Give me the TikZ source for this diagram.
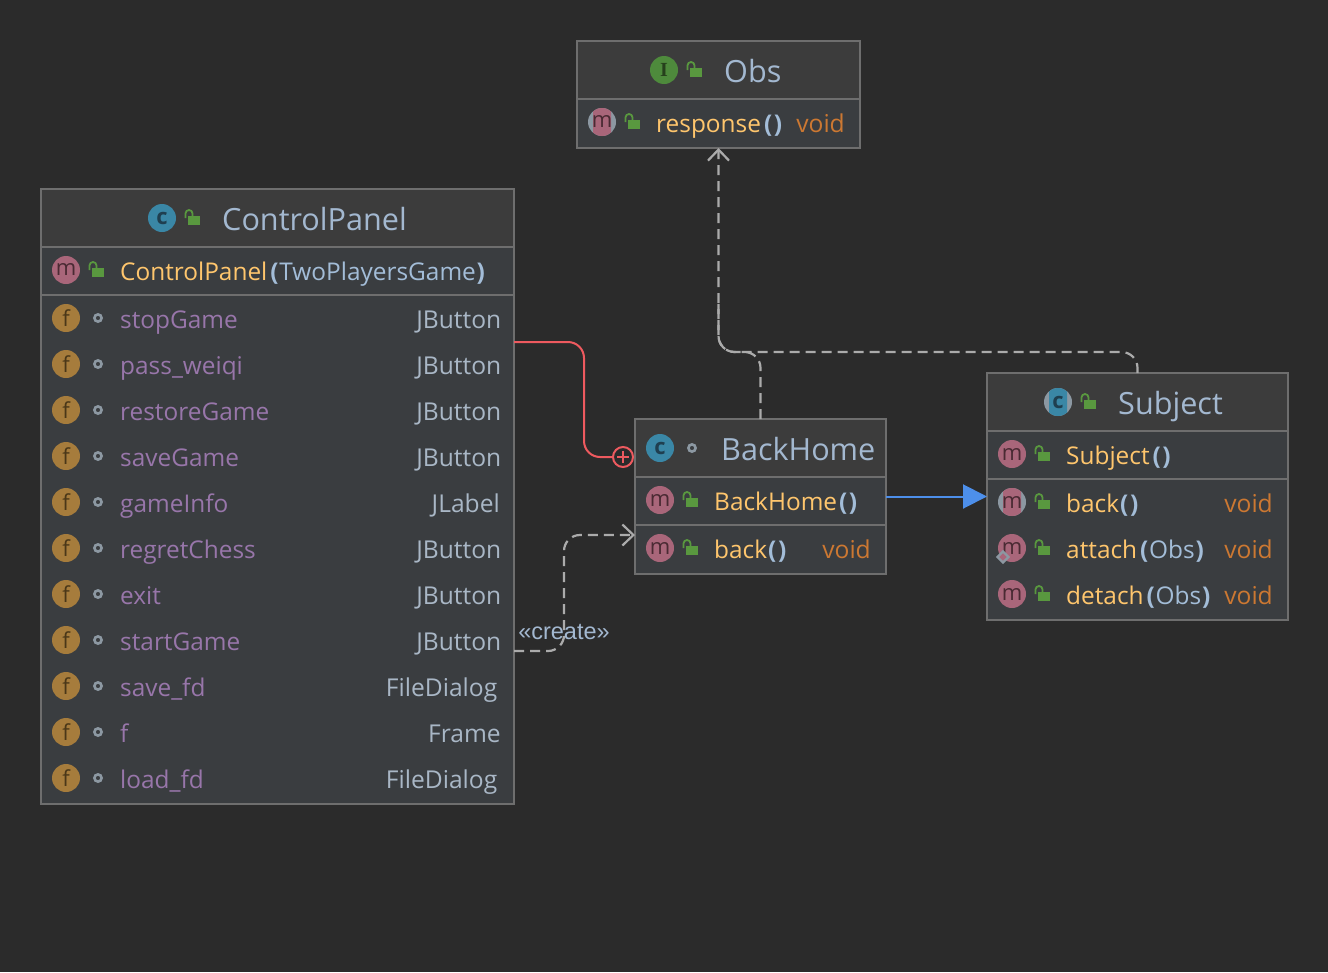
\documentclass[tikz,border=0pt]{standalone}
\usepackage{fontspec}
\setmainfont{Open Sans}
\newfontfamily\labelfont{Liberation Sans}
\newfontfamily\serifletter{Liberation Serif}
\usetikzlibrary{arrows.meta}
\definecolor{canvas}{HTML}{2B2B2B}
\definecolor{headfill}{HTML}{3C3C3C}
\definecolor{bodyfill}{HTML}{3A3D40}
\definecolor{edge}{HTML}{6E6E6E}
\definecolor{titlec}{HTML}{A3B8D0}
\definecolor{methodc}{HTML}{FFC66D}
\definecolor{parenc}{HTML}{A3BDD8}
\definecolor{fieldc}{HTML}{9876AA}
\definecolor{typec}{HTML}{A9B7C6}
\definecolor{voidc}{HTML}{CC7832}
\definecolor{lockc}{HTML}{59983F}
\definecolor{mfill}{HTML}{A9667A}
\definecolor{mtext}{HTML}{4A2A33}
\definecolor{ffill}{HTML}{A67C3C}
\definecolor{ftext}{HTML}{4A3718}
\definecolor{cfill}{HTML}{3A87A6}
\definecolor{ctext}{HTML}{1F3F50}
\definecolor{ifill}{HTML}{4E8A3C}
\definecolor{itext}{HTML}{26401C}
\definecolor{ghost}{HTML}{8C98A2}
\definecolor{dashc}{HTML}{ABABAB}
\definecolor{innerc}{HTML}{EE5A5F}
\definecolor{extendc}{HTML}{4D8FEA}
\newcommand{\pl}{\hspace{3pt}{\bfseries(}\hspace{0.8pt}}
\newcommand{\pr}{\hspace{0.8pt}{\bfseries)}}
\tikzset{
  classbox/.style={draw=edge,line width=1.5pt,fill=bodyfill,anchor=north west,inner sep=0pt,outer sep=0pt},
  sepline/.style={draw=edge,line width=2pt},
  titletext/.style={anchor=base west,inner sep=0pt,text=titlec,font=\fontsize{30.6}{31}\selectfont},
  rowtext/.style={anchor=base west,inner sep=0pt,font=\fontsize{24.4}{26}\selectfont},
  typetext/.style={anchor=base east,inner sep=0pt,font=\fontsize{24.6}{26}\selectfont},
  iconbase/.style={circle,minimum size=28pt,inner sep=0pt,font=\fontsize{22}{22}\selectfont},
  micon/.style={iconbase,fill=mfill,text=mtext},
  ficon/.style={iconbase,fill=ffill,text=ftext},
  cicon/.style={iconbase,fill=cfill,text=ctext,font=\fontsize{22}{22}\selectfont\bfseries},
  iicon/.style={iconbase,fill=ifill,text=itext},
  bareicon/.style={iconbase,text=#1},
  dashlink/.style={draw=dashc,line width=2.2pt,dash pattern=on 10pt off 6pt,rounded corners=16pt},
  openhead/.style={-{Straight Barb[length=11pt,width=21pt,line width=2.2pt]}},
  lockicon/.pic={
    \fill[lockc] (-4,-2) rectangle (8,7);
    \draw[lockc,line width=1.8pt] (-6.5,0) -- (-6.5,-4.5) arc[start angle=180,end angle=360,radius=3.5] -- (0.5,-2);
  },
  doticon/.pic={
    \draw[ghost,line width=2.6pt,fill=bodyfill] (0,0) circle[radius=3.6];
  },
}
% icon with a grey disc behind a coloured band
\newcommand{\abstracticon}[5]{%
  \fill[ghost] (#2,#3) circle[radius=14];
  \begin{scope}
    \clip (#2-9,#3-15) rectangle (#2+9,#3+15);
    \fill[#4] (#2,#3) circle[radius=14];
  \end{scope}
  \node[bareicon=#5] (#1) at (#2,#3) {m};
}
\newcommand{\methodrow}[5]{%
  \node[micon] (#1icon) at (#2+25,#3) {m};
  \pic at (#2+55,#3) {lockicon};
  \node[rowtext] (#1) at (#2+79,#3+10) {\color{methodc}#4\color{parenc}#5};
}
\begin{document}
\begin{tikzpicture}[x=1pt,y=-1pt]
\useasboundingbox[fill=canvas] (0,0) rectangle (1328,972);

% class boxes
\foreach \bname/\bx/\by/\bw/\bh/\sepa/\sepb in {obs/577/41/283/107/99/0,
    panel/41/189/473/615/247/295, backhome/635/419/251/155/477/525, subject/987/373/301/247/431/479}{
  \node[classbox,minimum width=\bw pt,minimum height=\bh pt] (\bname) at (\bx,\by) {};
  \fill[headfill] (\bx+1,\by+1) rectangle (\bx+\bw-1,\sepa);
  \draw[sepline] (\bx+1,\sepa) -- (\bx+\bw-1,\sepa);
  \ifnum\sepb>0 \draw[sepline] (\bx+1,\sepb) -- (\bx+\bw-1,\sepb); \fi
}

% Obs
\node[iicon,font=\serifletter\fontsize{20}{20}\selectfont\bfseries] (obsicon) at (664,70) {I};
\pic at (694,70) {lockicon};
\node[titletext] (obstitle) at (724,82) {Obs};
\abstracticon{responseicon}{602}{122}{mfill}{mtext}
\pic at (632,122) {lockicon};
\node[rowtext] (response) at (656,132) {\color{methodc}response\color{parenc}\pl\pr};
\node[typetext,text=voidc] (responsevoid) at (845,132) {void};

% ControlPanel
\node[cicon] (panelicon) at (162,218) {c};
\pic at (192,218) {lockicon};
\node[titletext] (paneltitle) at (222,230) {ControlPanel};
\methodrow{panelctor}{41}{270}{ControlPanel}{\pl TwoPlayersGame\pr}
\foreach \fname/\ftype/\tx [count=\i from 0] in {stopGame/JButton/501.5, pass\_weiqi/JButton/501.5,
    restoreGame/JButton/501.5, saveGame/JButton/501.5, gameInfo/JLabel/500, regretChess/JButton/501.5,
    exit/JButton/501.5, startGame/JButton/501.5, save\_fd/FileDialog/497.5, f/Frame/501, load\_fd/FileDialog/497.5}{
  \node[ficon] (icon\i) at (66,318+46*\i) {f};
  \pic at (98,318+46*\i) {doticon};
  \node[rowtext,text=fieldc] (field\i) at (120,328+46*\i) {\fname};
  \node[typetext,text=typec] (type\i) at (\tx,328+46*\i) {\ftype};
}

% BackHome
\node[cicon] (backhomeicon) at (660,448) {c};
\pic at (692,448) {doticon};
\node[titletext] (backhometitle) at (721,460) {BackHome};
\methodrow{backhomector}{635}{500}{BackHome}{\hspace{-1pt}\pl\pr}
\methodrow{backhomeback}{635}{548}{back}{\hspace{-2pt}\pl\pr}
\node[typetext,text=voidc] (backhomevoid) at (871,558) {void};

% Subject
\fill[ghost] (1058,402) circle[radius=14];
\begin{scope}
  \clip (1049,387) rectangle (1067,417);
  \fill[cfill] (1058,402) circle[radius=14];
\end{scope}
\node[bareicon=ctext,font=\fontsize{22}{22}\selectfont\bfseries] (subjecticon) at (1058,402) {c};
\pic at (1088,402) {lockicon};
\node[titletext] (subjecttitle) at (1118,414) {Subject};
\methodrow{subjectctor}{987}{454}{Subject}{\pl\pr}
\abstracticon{subjectbackicon}{1012}{502}{mfill}{mtext}
\pic at (1042,502) {lockicon};
\node[rowtext] (subjectback) at (1066,512) {\color{methodc}back\color{parenc}\hspace{-2pt}\pl\pr};
\node[typetext,text=voidc] (backvoid) at (1273,512) {void};
\methodrow{attach}{987}{548}{attach}{\pl Obs\pr}
\node[typetext,text=voidc] (attachvoid) at (1273,558) {void};
\draw[ghost,line width=2.4pt,fill=mfill] (1003,551.5) -- (1008.5,557) -- (1003,562.5) -- (997.5,557) -- cycle;
\methodrow{detach}{987}{594}{detach}{\pl Obs\pr}
\node[typetext,text=voidc] (detachvoid) at (1273,604) {void};

% connectors
\coordinate (panelinner) at (514,342);
\coordinate (panelcreate) at (514,651);
\coordinate (backcreate) at (635,535);
\node[circle,draw=innerc,line width=2pt,minimum size=20pt,inner sep=0pt] (innermark) at (623,457) {};
\draw[innerc,line width=2pt] (617,457) -- (629,457) (623,451) -- (623,463);
\draw[innerc,line width=2pt,rounded corners=16pt] (panelinner) -- (584,342) -- (584,457) -- (innermark.west);
\draw[dashlink,openhead] (backhome.north) -- (760.5,352) -- (718.5,352) -- (obs.south);
\draw[dashlink] (subject.north) -- (1137.5,352) -- (718.5,352) -- (718.5,300);
\draw[dashlink,openhead] (panelcreate) -- (564,651) -- (564,535) -- (backcreate);
\draw[extendc,line width=2pt,-{Triangle[length=24pt,width=24pt]}] (backhome.east) -- (subject.west);
\node[text=titlec,inner sep=0pt,font=\labelfont\fontsize{23.5}{24}\selectfont] (createlabel) at (564,632) {«create»};
\end{tikzpicture}
\end{document}
